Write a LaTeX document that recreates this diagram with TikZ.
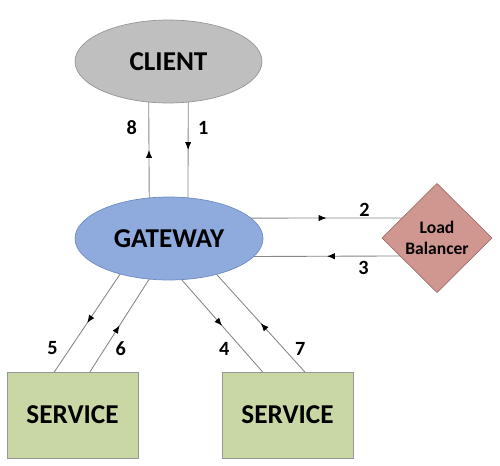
\documentclass[tikz,border=0pt]{standalone}
\usepackage{fontspec}
\setmainfont{Carlito}
\usetikzlibrary{positioning,arrows.meta,shapes.geometric,decorations.markings}

\definecolor{clientfill}{RGB}{191,191,191}
\definecolor{clientline}{RGB}{150,150,150}
\definecolor{gwfill}{RGB}{143,170,220}
\definecolor{gwline}{RGB}{110,140,195}
\definecolor{lbfill}{RGB}{208,150,144}
\definecolor{lbline}{RGB}{165,110,105}
\definecolor{svcfill}{RGB}{201,215,165}
\definecolor{svcline}{RGB}{150,150,150}
\definecolor{linegray}{RGB}{135,135,135}

\begin{document}
\begin{tikzpicture}[x=0.02cm,y=-0.02cm,
	every node/.style={inner sep=0pt,outer sep=0pt},
	big/.style={font=\fontsize{15.5}{18}\selectfont\bfseries},
	lbl/.style={font=\fontsize{11.5}{13}\selectfont\bfseries},
	conn/.style={draw=linegray,line width=0.5pt,postaction={decorate},
		decoration={markings,mark=at position .5 with {\arrow[black]{Latex[length=4.5pt,width=3.6pt]}}}}]
			\useasboundingbox (0,0) rectangle (500,466);

			\node[big,ellipse,fill=clientfill,draw=clientline,minimum width=3.74cm,minimum height=1.66cm] (client) at (168.5,61.5) {CLIENT};
			\node[big,ellipse,fill=gwfill,draw=gwline,minimum width=3.76cm,minimum height=1.66cm] (gateway) at (169,238.5) {GATEWAY};
			\node[diamond,aspect=1,fill=lbfill,draw=lbline,minimum width=2.2cm,minimum height=2.18cm,align=center,
				font=\fontsize{10}{11.8}\selectfont\bfseries] (lb) at (437,238) {Load\\Balancer};
			\node[big,rectangle,fill=svcfill,draw=svcline,minimum width=2.62cm,minimum height=1.72cm] (svc1) at (72.5,415) {SERVICE};
			\node[big,rectangle,fill=svcfill,draw=svcline,minimum width=2.62cm,minimum height=1.72cm] (svc2) at (287.5,415) {SERVICE};

			\draw[conn] (client.296) -- node[lbl,pos=.27,right=0.2cm] {1} (gateway.65);
			\draw[conn] (gateway.14) -- node[lbl,pos=.75,above=0.03cm] {2} (lb.150);
			\draw[conn] (lb.206) -- node[lbl,pos=.25,below=0.1cm] {3} (gateway.348);
			\draw[conn] (gateway.287) -- node[lbl,pos=.75,left=0.26cm] {4} (svc2.120);
			\draw[conn] (gateway.216) -- node[lbl,pos=.76,left=0.25cm] {5} (svc1.113);
			\draw[conn] (svc1.68) -- node[lbl,pos=.25,right=0.22cm] {6} (gateway.244);
			\draw[conn] (svc2.68) -- node[lbl,pos=.24,right=0.23cm] {7} (gateway.323);
			\draw[conn] (gateway.116) -- node[lbl,pos=.73,left=0.24cm] {8} (client.244);
		\end{tikzpicture}
\end{document}
